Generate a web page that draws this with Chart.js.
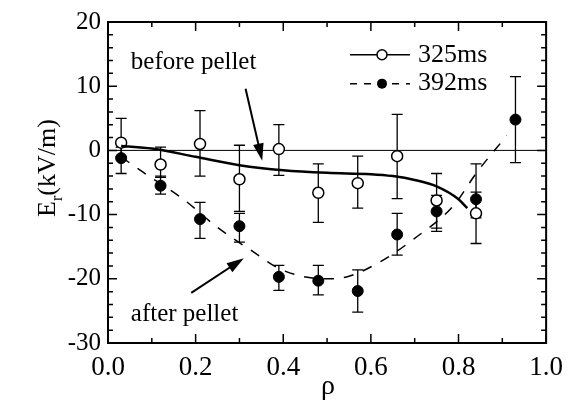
<!DOCTYPE html>
<html lang="en">
<head>
  <meta charset="UTF-8">
  <title>Er profile</title>
  <script src="https://cdn.jsdelivr.net/npm/chart.js"></script>
  <style>
    html, body { margin: 0; padding: 0; background: #fff; }
    canvas { display: block; }
  </style>
</head>
<body>
  <canvas id="grafico" width="572" height="402"></canvas>

  <script>
    // measured points (rho, Er) with error bar ends
    const rho325 = [0.03, 0.12, 0.21, 0.30, 0.39, 0.48, 0.57, 0.66, 0.75, 0.84];
    const er325  = [1.2, -2.2, 1.0, -4.5, 0.2, -6.6, -5.1, -0.9, -7.8, -9.8];
    const hi325  = [5.0, 0.5, 6.2, 0.8, 4.0, -2.1, -0.9, 5.6, -3.6, -6.5];
    const lo325  = [-1.0, -4.2, -4.0, -9.5, -3.9, -11.2, -9.0, -7.5, -12.1, -14.5];

    const rho392 = [0.03, 0.12, 0.21, 0.30, 0.39, 0.48, 0.57, 0.66, 0.75, 0.84, 0.93];
    const er392  = [-1.2, -5.5, -10.7, -11.8, -19.7, -20.3, -21.9, -13.1, -9.5, -7.6, 4.8];
    const hi392  = [0.5, -4.0, -8.1, -9.8, -17.9, -17.9, -18.6, -9.8, -7.0, -2.1, 11.5];
    const lo392  = [-3.6, -6.8, -13.7, -14.3, -21.8, -22.5, -25.2, -16.3, -12.6, -10.5, -1.9];

    // fitted curves
    const fitRho325 = [0.03, 0.10, 0.20, 0.30, 0.40, 0.50, 0.60, 0.65, 0.70, 0.75, 0.80, 0.82];
    const fitEr325  = [0.7, 0.3, -1.0, -2.3, -3.1, -3.5, -3.7, -4.0, -4.6, -5.6, -7.6, -9.0];
    const fitRho392 = [0.03, 0.08, 0.17, 0.25, 0.325, 0.40, 0.50, 0.55, 0.62, 0.70, 0.79, 0.84, 0.91];
    const fitEr392  = [-1.0, -3.4, -7.5, -12.0, -15.5, -18.7, -20.0, -19.6, -17.4, -13.7, -8.5, -3.6, 2.3];

    const xTicks = [0, 0.2, 0.4, 0.6, 0.8, 1.0];
    const yTicks = [-30, -20, -10, 0, 10, 20];
    const seriesNames = ['325ms', '392ms'];

    const serif = "'Liberation Serif', 'DejaVu Serif', serif";
    const pts = (xs, ys) => xs.map((x, i) => ({ x, y: ys[i] }));

    const extras = {
      id: 'extras',
      beforeDatasetsDraw(chart) {
        const { ctx, chartArea: a, scales: { x, y } } = chart;
        ctx.save();
        ctx.strokeStyle = '#000';
        // zero line
        ctx.lineWidth = 1;
        ctx.beginPath();
        ctx.moveTo(a.left, y.getPixelForValue(0));
        ctx.lineTo(a.right, y.getPixelForValue(0));
        ctx.stroke();
        // error bars
        const bars = (xs, his, los) => {
          xs.forEach((r, i) => {
            const px = x.getPixelForValue(r);
            const t = y.getPixelForValue(his[i]);
            const b = y.getPixelForValue(los[i]);
            ctx.beginPath();
            ctx.moveTo(px, t); ctx.lineTo(px, b);
            ctx.moveTo(px - 5.5, t); ctx.lineTo(px + 5.5, t);
            ctx.moveTo(px - 5.5, b); ctx.lineTo(px + 5.5, b);
            ctx.stroke();
          });
        };
        ctx.lineWidth = 1.3;
        bars(rho325, hi325, lo325);
        bars(rho392, hi392, lo392);
        ctx.restore();
      },
      afterDraw(chart) {
        const { ctx, chartArea: a, scales: { x, y } } = chart;
        ctx.save();
        ctx.strokeStyle = '#000';
        ctx.fillStyle = '#000';
        // frame
        ctx.lineWidth = 2;
        ctx.strokeRect(a.left, a.top, a.right - a.left, a.bottom - a.top);
        // inward ticks
        ctx.lineWidth = 1.5;
        ctx.beginPath();
        for (let v = -30; v <= 20; v += 2) {
          const py = y.getPixelForValue(v);
          const len = v % 10 === 0 ? 9 : 5;
          ctx.moveTo(a.left, py); ctx.lineTo(a.left + len, py);
          ctx.moveTo(a.right, py); ctx.lineTo(a.right - len, py);
        }
        for (let k = 0; k <= 10; k++) {
          const px = x.getPixelForValue(k / 10);
          const len = k % 2 === 0 ? 9 : 5;
          ctx.moveTo(px, a.bottom); ctx.lineTo(px, a.bottom - len);
          ctx.moveTo(px, a.top); ctx.lineTo(px, a.top + len);
        }
        ctx.stroke();

        // annotations
        const arrow = (r0, e0, r1, e1) => {
          const x0 = x.getPixelForValue(r0), y0 = y.getPixelForValue(e0);
          const x1 = x.getPixelForValue(r1), y1 = y.getPixelForValue(e1);
          const ang = Math.atan2(y1 - y0, x1 - x0);
          ctx.lineWidth = 2;
          ctx.beginPath();
          ctx.moveTo(x0, y0); ctx.lineTo(x1 - 10 * Math.cos(ang), y1 - 10 * Math.sin(ang));
          ctx.stroke();
          ctx.beginPath();
          ctx.moveTo(x1, y1);
          ctx.lineTo(x1 - 18 * Math.cos(ang - 0.3), y1 - 18 * Math.sin(ang - 0.3));
          ctx.lineTo(x1 - 18 * Math.cos(ang + 0.3), y1 - 18 * Math.sin(ang + 0.3));
          ctx.closePath();
          ctx.fill();
        };
        arrow(0.314, 9.6, 0.352, -1.6);
        arrow(0.19, -22.2, 0.31, -16.8);

        ctx.font = '25px ' + serif;
        ctx.textBaseline = 'middle';
        ctx.textAlign = 'left';
        ctx.fillText('before pellet', x.getPixelForValue(0.052), y.getPixelForValue(13.7));
        ctx.fillText('after pellet', x.getPixelForValue(0.052), y.getPixelForValue(-25.6));

        // legend
        const legY = [y.getPixelForValue(14.9), y.getPixelForValue(10.4)];
        const lx0 = 350, lx1 = 410, lc = 382;
        ctx.lineWidth = 1.5;
        ctx.beginPath();
        ctx.moveTo(lx0, legY[0]); ctx.lineTo(lx1, legY[0]);
        ctx.stroke();
        ctx.setLineDash([7, 7]);
        ctx.beginPath();
        ctx.moveTo(lx0, legY[1]); ctx.lineTo(lx1, legY[1]);
        ctx.stroke();
        ctx.setLineDash([]);
        ctx.fillStyle = '#fff';
        ctx.beginPath(); ctx.arc(lc, legY[0], 5, 0, Math.PI * 2); ctx.fill(); ctx.stroke();
        ctx.fillStyle = '#000';
        ctx.beginPath(); ctx.arc(lc, legY[1], 5, 0, Math.PI * 2); ctx.fill();
        ctx.font = '26px ' + serif;
        ctx.fillText(seriesNames[0], 418, legY[0]);
        ctx.fillText(seriesNames[1], 418, legY[1]);

        // axis titles
        ctx.font = '28px ' + serif;
        ctx.textAlign = 'center';
        ctx.fillText('\u03C1', 328, 387);

        ctx.translate(46, 168);
        ctx.rotate(-Math.PI / 2);
        ctx.textAlign = 'left';
        ctx.textBaseline = 'alphabetic';
        ctx.font = '26px ' + serif;
        const wE = ctx.measureText('E').width;
        const wU = ctx.measureText('(kV/m)').width;
        ctx.font = '16px ' + serif;
        const wR = ctx.measureText('r').width;
        const total = wE + wR + wU;
        let cx = -total / 2;
        ctx.font = '26px ' + serif;
        ctx.fillText('E', cx, 9);
        cx += wE;
        ctx.font = '16px ' + serif;
        ctx.fillText('r', cx, 16);
        cx += wR;
        ctx.font = '26px ' + serif;
        ctx.fillText('(kV/m)', cx, 9);
        ctx.restore();
      }
    };

    const ctx = document.getElementById('grafico').getContext('2d');
    new Chart(ctx, {
      type: 'scatter',
      data: {
        datasets: [
          {
            label: 'fit 325',
            data: pts(fitRho325, fitEr325),
            showLine: true,
            borderColor: '#000',
            borderWidth: 2.5,
            pointRadius: 0,
            cubicInterpolationMode: 'monotone'
          },
          {
            label: 'fit 392',
            data: pts(fitRho392, fitEr392),
            showLine: true,
            borderColor: '#000',
            borderWidth: 1.5,
            borderDash: [10, 10],
            pointRadius: 0,
            cubicInterpolationMode: 'monotone'
          },
          {
            label: seriesNames[0],
            data: pts(rho325, er325),
            pointRadius: 5.5,
            pointBackgroundColor: '#fff',
            pointBorderColor: '#000',
            pointBorderWidth: 1.5
          },
          {
            label: seriesNames[1],
            data: pts(rho392, er392),
            pointRadius: 5.5,
            pointBackgroundColor: '#000',
            pointBorderColor: '#000',
            pointBorderWidth: 1
          }
        ]
      },
      options: {
        responsive: false,
        animation: false,
        layout: { padding: { top: 22, right: 23, left: 0, bottom: 0 } },
        plugins: {
          legend: { display: false },
          tooltip: { enabled: false }
        },
        scales: {
          x: {
            type: 'linear',
            min: 0,
            max: 1,
            grid: { display: false, drawTicks: false },
            border: { display: false },
            afterBuildTicks: s => { s.ticks = xTicks.map(v => ({ value: v })); },
            afterFit: s => { s.height = 59; },
            ticks: {
              color: '#000',
              padding: 9,
              maxRotation: 0,
              font: { family: serif, size: 27 },
              callback: v => Number(v).toFixed(1)
            }
          },
          y: {
            min: -30,
            max: 20,
            grid: { display: false, drawTicks: false },
            border: { display: false },
            afterBuildTicks: s => { s.ticks = yTicks.map(v => ({ value: v })); },
            afterFit: s => { s.width = 108; },
            ticks: {
              color: '#000',
              padding: 7,
              font: { family: serif, size: 25 }
            }
          }
        }
      },
      plugins: [extras]
    });
  </script>
</body>
</html>
